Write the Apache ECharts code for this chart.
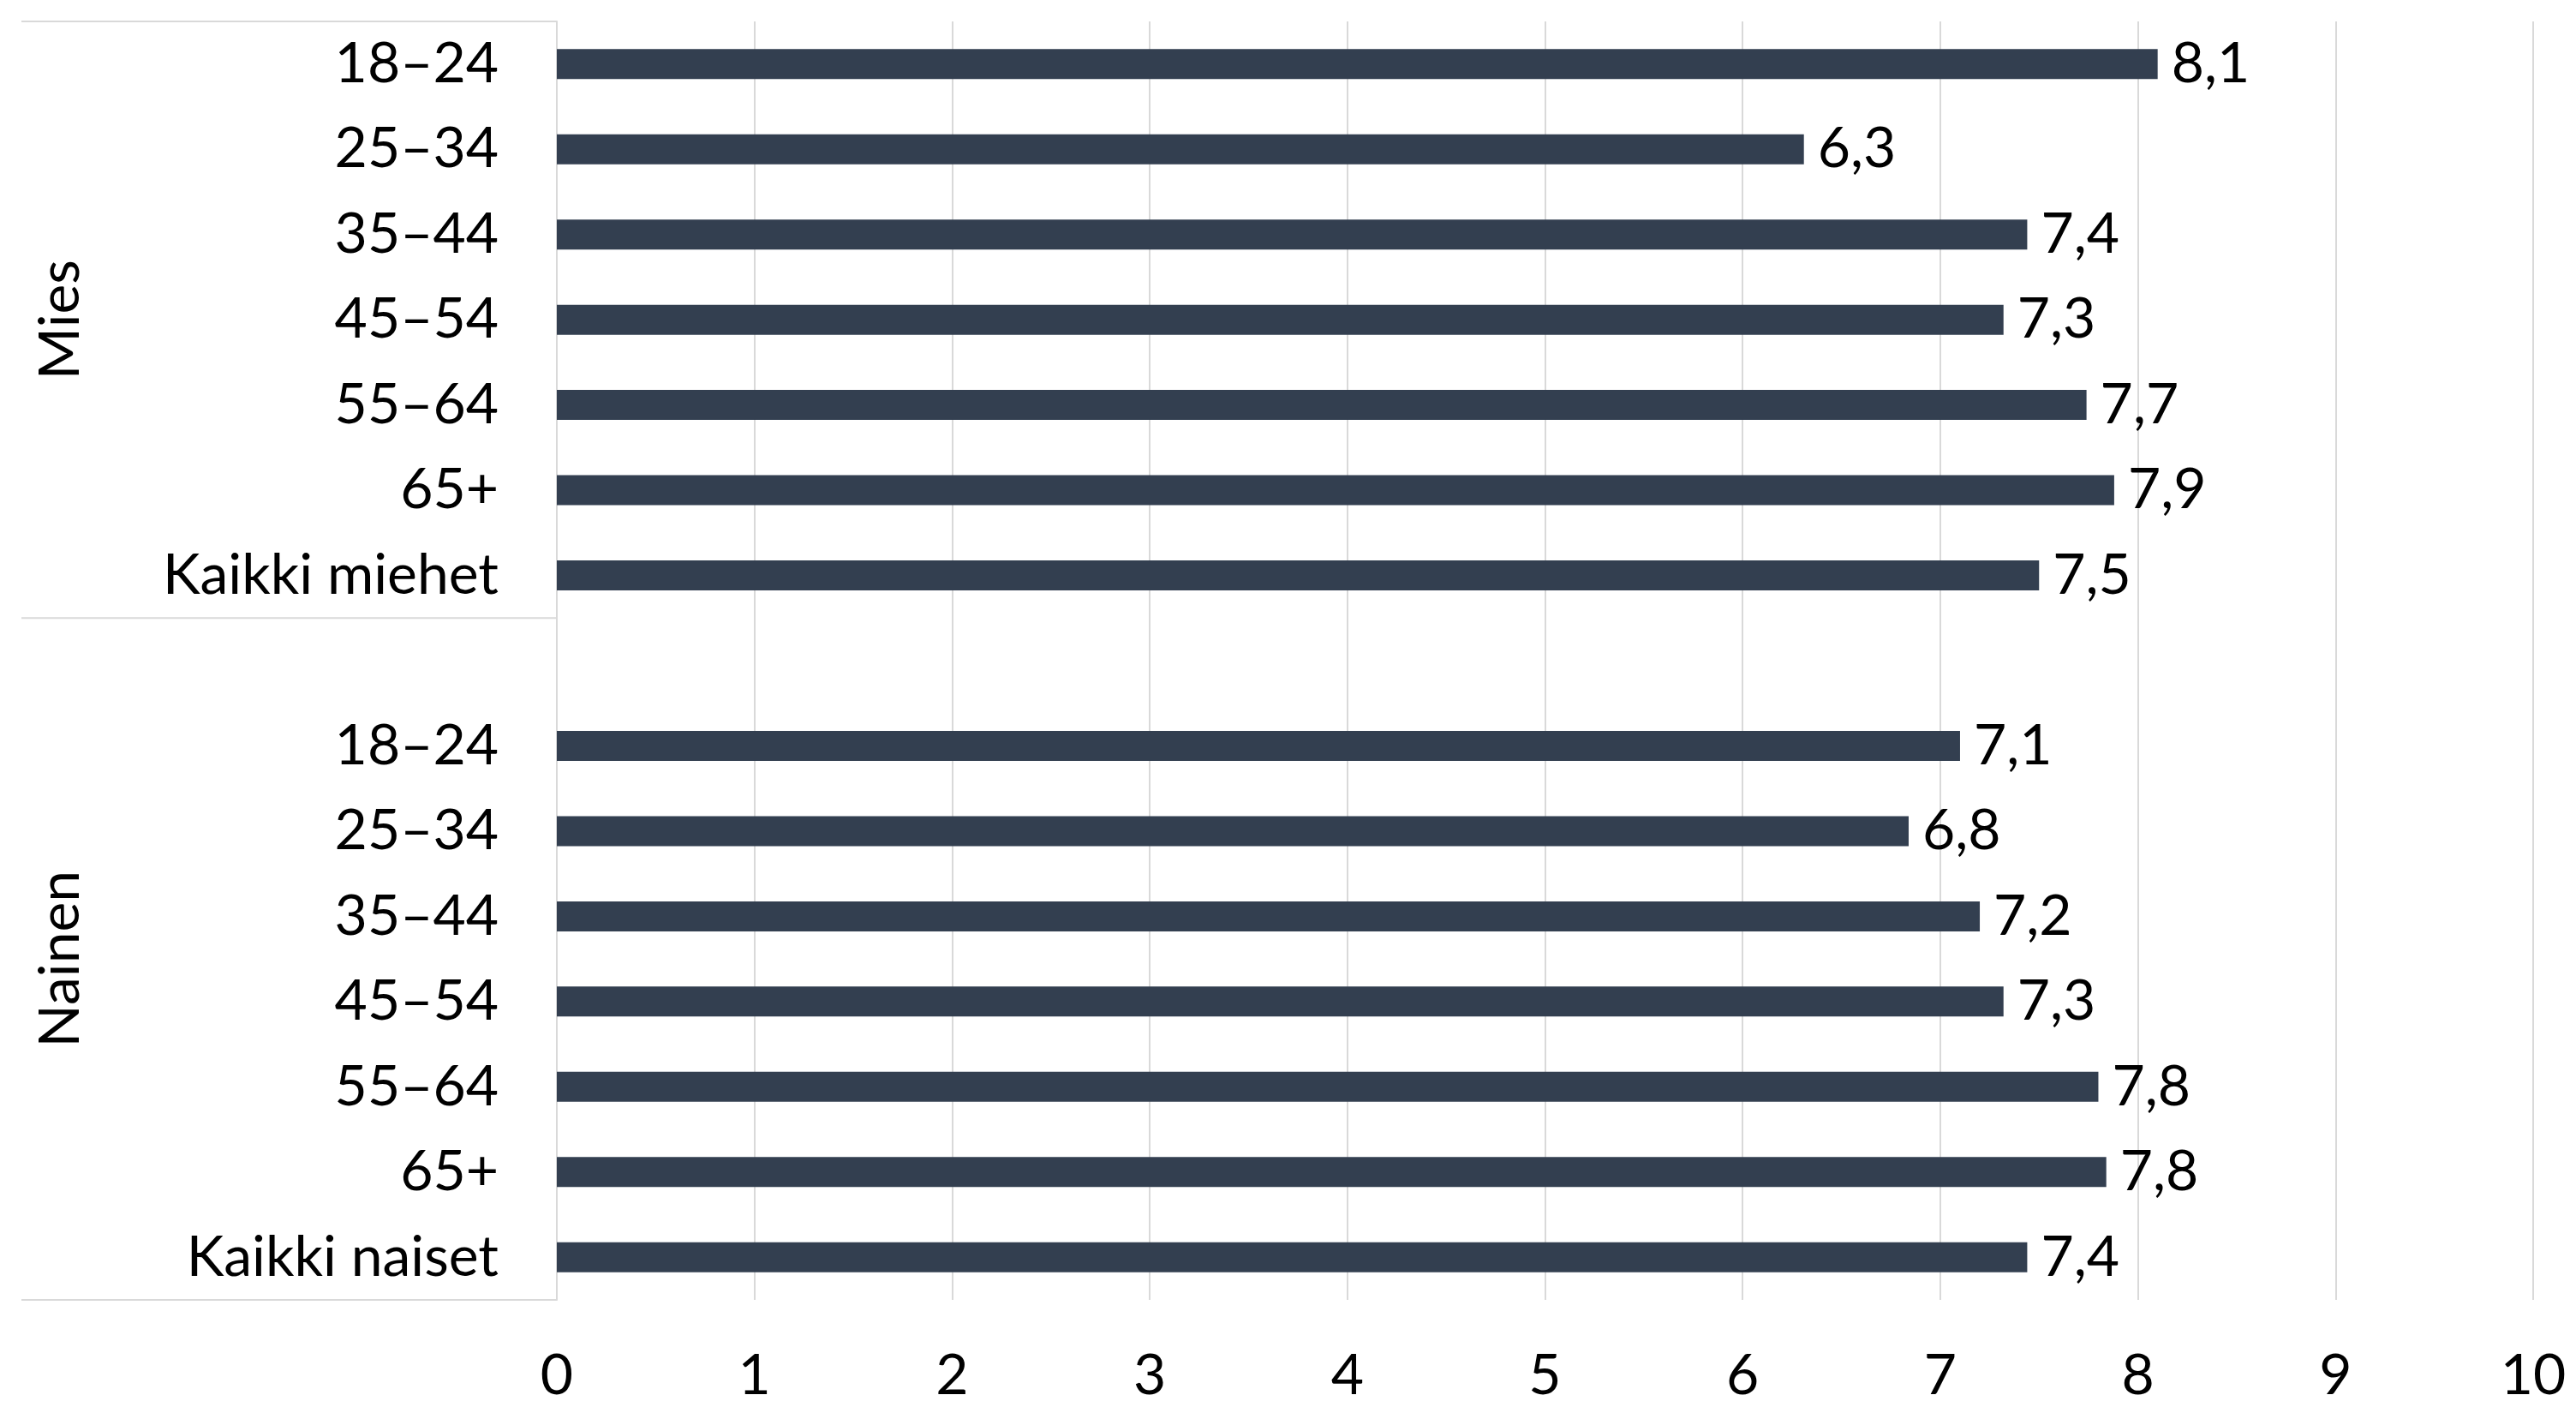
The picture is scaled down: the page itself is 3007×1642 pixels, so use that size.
<!DOCTYPE html>
<html>
<head>
<meta charset="utf-8">
<script src="https://cdn.jsdelivr.net/npm/echarts@6/dist/echarts.min.js"></script>
<style>
  html, body { margin: 0; padding: 0; background: #fff; }
  #chart { width: 3007px; height: 1642px; }
</style>
</head>
<body>
<div id="chart"></div>
<script>
// categories per group
const miesLabels = ['18–24', '25–34', '35–44', '45–54', '55–64', '65+', 'Kaikki miehet'];
const nainenLabels = ['18–24', '25–34', '35–44', '45–54', '55–64', '65+', 'Kaikki naiset'];
const groupNames = ['Mies', 'Nainen'];

// values
const miesValues = [8.10, 6.31, 7.44, 7.32, 7.74, 7.88, 7.50];
const nainenValues = [7.10, 6.84, 7.20, 7.32, 7.80, 7.84, 7.44];

const FONT = 'Lato';
const FS = 66;
const GRID = '#d9d9d9';

// blank slot between the two groups belongs to Nainen
const categories = [...miesLabels, '', ...nainenLabels];
const values = [...miesValues, null, ...nainenValues];
const groupSpans = [[0, miesLabels.length], [miesLabels.length, categories.length]];

const chart = echarts.init(document.getElementById('chart'));

const option = {
  backgroundColor: '#fff',
  animation: false,
  grid: { left: 650, right: 50, top: 25, bottom: 125 },
  xAxis: {
    type: 'value',
    min: 0,
    max: 10,
    interval: 1,
    axisLine: { show: false },
    axisTick: { show: false },
    splitLine: { show: true, lineStyle: { color: GRID, width: 2 } },
    axisLabel: { color: '#000', fontFamily: FONT, fontSize: FS, margin: 56 }
  },
  yAxis: {
    type: 'category',
    inverse: true,
    data: categories,
    axisLine: { show: true, lineStyle: { color: GRID, width: 2 } },
    axisTick: { show: false },
    axisLabel: { color: '#000', fontFamily: FONT, fontSize: FS, margin: 68 }
  },
  series: [{
    type: 'bar',
    data: values,
    barWidth: 35,
    itemStyle: { color: '#333F50' },
    label: {
      show: true,
      position: 'right',
      distance: 16,
      color: '#000',
      fontFamily: FONT,
      fontSize: FS,
      formatter: p => p.value.toFixed(1).replace('.', ',')
    }
  }]
};

chart.setOption(option);

// group labels and separator lines in the label area
const y0 = chart.convertToPixel({ yAxisIndex: 0 }, 0);
const y1 = chart.convertToPixel({ yAxisIndex: 0 }, 1);
const slot = y1 - y0;
const edge = i => y0 - slot / 2 + i * slot;
const x0 = chart.convertToPixel({ xAxisIndex: 0 }, 0);

const graphics = [];
const bounds = [0, groupSpans[0][1], categories.length];
bounds.forEach(b => {
  graphics.push({
    type: 'line',
    shape: { x1: 25, y1: edge(b), x2: x0, y2: edge(b) },
    style: { stroke: GRID, lineWidth: 2 }
  });
});
groupNames.forEach((name, i) => {
  const mid = (edge(groupSpans[i][0]) + edge(groupSpans[i][1])) / 2;
  graphics.push({
    type: 'text',
    x: 71,
    y: mid,
    rotation: Math.PI / 2,
    style: {
      text: name,
      fill: '#000',
      font: FS + 'px ' + FONT,
      align: 'center',
      verticalAlign: 'middle'
    }
  });
});

chart.setOption({ graphic: graphics });
</script>
</body>
</html>
